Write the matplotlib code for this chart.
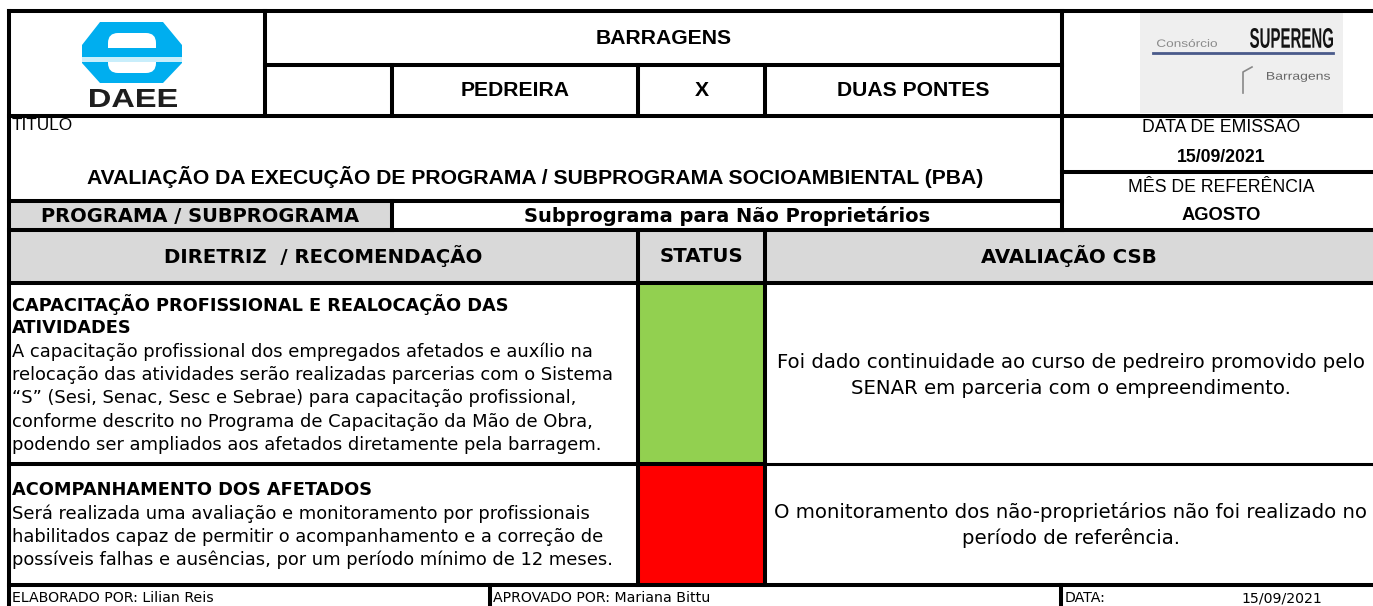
import matplotlib.pyplot as plt
from matplotlib.patches import Rectangle, Polygon, FancyBboxPatch, PathPatch
from matplotlib.textpath import TextPath
from matplotlib.font_manager import FontProperties
from matplotlib.transforms import Affine2D

# ------------------------------------------------------------
# Form contents
# ------------------------------------------------------------
TITLE_TOP = "BARRAGENS"
DAMS = ["PEDREIRA", "X", "DUAS PONTES"]
TITLE_LABEL = "TITULO"
TITLE_TEXT = "AVALIAÇÃO DA EXECUÇÃO DE PROGRAMA / SUBPROGRAMA SOCIOAMBIENTAL (PBA)"
ISSUE_LABEL = "DATA DE EMISSÃO"
ISSUE_DATE = "15/09/2021"
REF_LABEL = "MÊS DE REFERÊNCIA"
REF_MONTH = "AGOSTO"
PROG_LABEL = "PROGRAMA / SUBPROGRAMA"
PROG_NAME = "Subprograma para Não Proprietários"
COL_HEADERS = ["DIRETRIZ  / RECOMENDAÇÃO", "STATUS", "AVALIAÇÃO CSB"]

ITEM_TITLES = [
    ["CAPACITAÇÃO PROFISSIONAL E REALOCAÇÃO DAS", "ATIVIDADES"],
    ["ACOMPANHAMENTO DOS AFETADOS"],
]
ITEM_BODIES = [
    ["A capacitação profissional dos empregados afetados e auxílio na",
     "relocação das atividades serão realizadas parcerias com o Sistema",
     "“S” (Sesi, Senac, Sesc e Sebrae) para capacitação profissional,",
     "conforme descrito no Programa de Capacitação da Mão de Obra,",
     "podendo ser ampliados aos afetados diretamente pela barragem."],
    ["Será realizada uma avaliação e monitoramento por profissionais",
     "habilitados capaz de permitir o acompanhamento e a correção de",
     "possíveis falhas e ausências, por um período mínimo de 12 meses."],
]
ITEM_STATUS = ["#92d050", "#ff0000"]
ITEM_EVAL = [
    ["Foi dado continuidade ao curso de pedreiro promovido pelo",
     "SENAR em parceria com o empreendimento."],
    ["O monitoramento dos não-proprietários não foi realizado no",
     "período de referência."],
]
FOOTER = ["ELABORADO POR: Lilian Reis", "APROVADO POR: Mariana Bittu", "DATA:", "15/09/2021"]

# ------------------------------------------------------------
# Layout (pixel grid of the form)
# ------------------------------------------------------------
W, H = 1373, 606
XL, XR = 9, 1373
X_LOGO, X_BLANK, X_STAT, X_EVAL, X_RIGHT = 265, 392, 638, 765, 1062
Y_TOP, Y_MID, Y_HEAD, Y_SPLIT, Y_PROG, Y_COLS, Y_ROW1, Y_ROW2, Y_FOOT = \
    11, 65, 116, 172, 201, 230, 283, 464, 585
ROW_BOUNDS = [(Y_ROW1, Y_ROW2), (Y_ROW2, Y_FOOT)]
GREY = "#d9d9d9"
LW = 2.9

fig = plt.figure(figsize=(W / 100, H / 100), dpi=100)
ax = fig.add_axes([0, 0, 1, 1])
ax.set_xlim(0, W)
ax.set_ylim(H, 0)
ax.axis("off")

ARIAL = "Liberation Sans"
VERD = "DejaVu Sans"


def hline(y, x0, x1, lw=LW):
    ax.plot([x0, x1], [y, y], color="black", lw=lw, solid_capstyle="projecting", zorder=5)


def vline(x, y0, y1, lw=LW):
    ax.plot([x, x], [y0, y1], color="black", lw=lw, solid_capstyle="projecting", zorder=5)


def fill(x0, y0, x1, y1, color):
    ax.add_patch(Rectangle((x0, y0), x1 - x0, y1 - y0, facecolor=color, edgecolor="none", zorder=1))


def boxed_text(s, x0, x1, y0, y1, color, weight="bold"):
    # logo lettering squeezed into a given box
    tp = TextPath((0, 0), s, size=1, prop=FontProperties(family=ARIAL, weight=weight))
    bb = tp.get_extents()
    tr = (Affine2D().translate(-bb.x0, -bb.y0)
          .scale((x1 - x0) / bb.width, -(y1 - y0) / bb.height)
          .translate(x0, y1))
    ax.add_patch(PathPatch(tr.transform_path(tp), facecolor=color, edgecolor="none", zorder=4))


# fills
fill(XL, Y_PROG, X_BLANK, Y_COLS, GREY)
fill(XL, Y_COLS, XR, Y_ROW1, GREY)
for (y0, y1), c in zip(ROW_BOUNDS, ITEM_STATUS):
    fill(X_STAT, y0, X_EVAL, y1, c)

# grid lines (the right border lies just outside the crop)
hline(Y_TOP, XL, XR)
hline(Y_MID, X_LOGO, X_RIGHT)
hline(Y_HEAD, XL, XR)
hline(Y_SPLIT, X_RIGHT, XR)
hline(Y_PROG, XL, X_RIGHT)
hline(Y_COLS, XL, XR)
hline(Y_ROW1, XL, XR)
hline(Y_ROW2, XL, X_EVAL)
hline(Y_ROW2, X_EVAL, XR, lw=2.2)
hline(Y_FOOT, XL, XR)
vline(XL, Y_TOP, H)
vline(X_LOGO, Y_TOP, Y_HEAD)
for x in (X_BLANK, X_STAT, X_EVAL):
    vline(x, Y_MID, Y_HEAD)
vline(X_BLANK, Y_PROG, Y_COLS)
vline(X_STAT, Y_COLS, Y_FOOT)
vline(X_EVAL, Y_COLS, Y_FOOT)
vline(X_RIGHT, Y_TOP, Y_COLS)
vline(490, Y_FOOT, H)
vline(1061, Y_FOOT, H)

# ---- DAEE logo
blue = "#00aeef"
ax.add_patch(Polygon([(100, 22), (163, 22), (182, 45), (182, 63), (163, 83), (100, 83),
                      (82, 63), (82, 45)], closed=True, facecolor=blue, edgecolor="none", zorder=2))
ax.add_patch(FancyBboxPatch((108, 33), 48, 40, boxstyle="round,pad=0,rounding_size=10",
                            facecolor="white", edgecolor="none", zorder=3))
ax.add_patch(Rectangle((104, 48), 56, 9, facecolor=blue, edgecolor="none", zorder=4))
ax.add_patch(Rectangle((82, 57), 100, 5, facecolor="#c9eefb", edgecolor="none", zorder=4))
boxed_text("DAEE", 90, 177, 89, 107, "#1e1e1e")

# ---- SUPERENG logo
ax.add_patch(Rectangle((1140, 11), 203, 102, facecolor="#efefef", edgecolor="none", zorder=2))
boxed_text("Consórcio", 1157, 1217, 39, 47, "#8a8a8a", weight="normal")
boxed_text("SUPERENG", 1250, 1333, 28, 48, "#141414")
ax.plot([1153, 1333], [53, 53], color="#4a5a8a", lw=2, zorder=3)
ax.plot([1243, 1243, 1252], [93, 72, 67], color="#888888", lw=1.2, zorder=3)
boxed_text("Barragens", 1267, 1330, 72, 82, "#666666", weight="normal")

# ---- header texts
ax.text((X_LOGO + X_RIGHT) / 2, 38, TITLE_TOP, ha="center", va="center", fontsize=15.2,
        fontweight="bold", family=ARIAL)
for (x0, x1), t in zip([(X_BLANK, X_STAT), (X_STAT, X_EVAL), (X_EVAL, X_RIGHT)], DAMS):
    ax.text((x0 + x1) / 2, 90, t, ha="center", va="center", fontsize=15.2,
            fontweight="bold", family=ARIAL)
ax.text(12, 126, TITLE_LABEL, ha="left", va="center", fontsize=12.4, family=ARIAL)
ax.text(535, 177, TITLE_TEXT, ha="center", va="center", fontsize=15.2, fontweight="bold", family=ARIAL)
xc = 1221
ax.text(xc, 128, ISSUE_LABEL, ha="center", va="center", fontsize=12.7, family=ARIAL)
ax.text(xc, 157, ISSUE_DATE, ha="center", va="center", fontsize=12.7, fontweight="bold", family=ARIAL)
ax.text(xc, 187, REF_LABEL, ha="center", va="center", fontsize=12.7, family=ARIAL)
ax.text(xc, 216, REF_MONTH, ha="center", va="center", fontsize=13.2, fontweight="bold", family=ARIAL)

ax.text((XL + X_BLANK) / 2, 216, PROG_LABEL, ha="center", va="center", fontsize=14,
        fontweight="bold", family=VERD)
ax.text(727, 216, PROG_NAME, ha="center", va="center", fontsize=14, fontweight="bold", family=VERD)

for (x0, x1), t in zip([(XL, X_STAT), (X_STAT, X_EVAL), (X_EVAL, XR)], COL_HEADERS):
    ax.text((x0 + x1) / 2, 256, t, ha="center", va="center", fontsize=14.2,
            fontweight="bold", family=VERD)

# ---- item rows
LINE = 23.3
EVAL_Y = [(363, 388), (512, 538)]
for k, (y0, y1) in enumerate(ROW_BOUNDS):
    y = y0 + 22 if k == 0 else y0 + 26
    for t in ITEM_TITLES[k]:
        ax.text(12, y, t, ha="left", va="center", fontsize=12.8, fontweight="bold", family=VERD)
        y += LINE
    for t in ITEM_BODIES[k]:
        ax.text(12, y, t, ha="left", va="center", fontsize=12.9, family=VERD)
        y += LINE
    for t, yy in zip(ITEM_EVAL[k], EVAL_Y[k]):
        ax.text(1071, yy, t, ha="center", va="center", fontsize=14.2, family=VERD)

# ---- footer
FOOT_X = [12, 493, 1065, 1241]
for x, t in zip(FOOT_X, FOOTER):
    ax.text(x, 598, t, ha="left", va="center", fontsize=10.2, family=VERD)

fig.savefig("out.png", dpi=100)
